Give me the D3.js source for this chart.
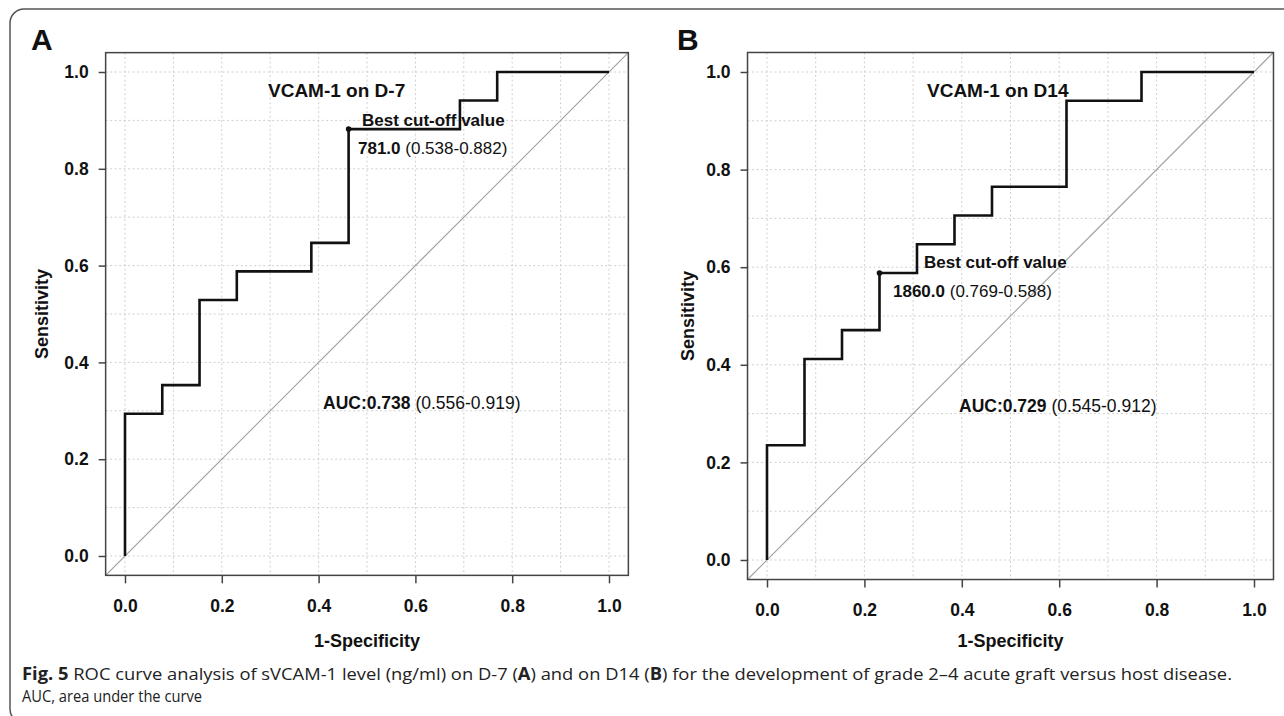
<!DOCTYPE html>
<html>
<head>
<meta charset="utf-8">
<script src="https://cdn.jsdelivr.net/npm/d3@7"></script>
<style>
  body { margin: 0; background: #fff; }
  svg { display: block; }
</style>
</head>
<body>
<div id="container-chart"></div>
<script>
// ROC step vertices (x = 1-specificity, y = sensitivity)
const fprA = [0, 0, 0.077, 0.154, 0.231, 0.385, 0.462, 0.692, 0.769, 1.0];
const tprA = [0, 0.294, 0.353, 0.529, 0.588, 0.647, 0.882, 0.941, 1.0, 1.0];
const fprB = [0, 0, 0.077, 0.154, 0.231, 0.308, 0.385, 0.462, 0.615, 0.769, 1.0];
const tprB = [0, 0.235, 0.412, 0.471, 0.588, 0.647, 0.706, 0.765, 0.941, 1.0, 1.0];

// best cut-off points
const bestA = [0.462, 0.882];
const bestB = [0.231, 0.588];

const tickValues = [0, 0.2, 0.4, 0.6, 0.8, 1.0];
const gridValues = [0, 0.1, 0.2, 0.3, 0.4, 0.5, 0.6, 0.7, 0.8, 0.9, 1.0];

const panelLabels = ["A", "B"];
const titles = ["VCAM-1 on D-7", "VCAM-1 on D14"];
const cutValues = ["781.0", "1860.0"];
const cutRanges = [" (0.538-0.882)", " (0.769-0.588)"];
const aucValues = ["AUC:0.738", "AUC:0.729"];
const aucRanges = [" (0.556-0.919)", " (0.545-0.912)"];

const W = 1284, H = 716;
const FONT = "'Liberation Sans', Arial, sans-serif";

const svg = d3.select("#container-chart")
  .append("svg")
  .attr("width", W)
  .attr("height", H);

// outer frame (open to the right, like the crop)
svg.append("rect")
  .attr("x", 10).attr("y", 9)
  .attr("width", 1320).attr("height", 714)
  .attr("rx", 14)
  .attr("fill", "none")
  .attr("stroke", "#555")
  .attr("stroke-width", 1.5);

// layout for each panel: x(0), x(1), y(0), y(1)
const panels = [
  {x0: 125, x1: 609, y0: 556, y1: 72, fpr: fprA, tpr: tprA, best: bestA,
   labX: 31, titleX: 268, cutX: 362, cutY: 126, valX: 358, valY: 154, aucX: 323, aucY: 409, yTitleX: 48},
  {x0: 767, x1: 1254, y0: 560, y1: 72, fpr: fprB, tpr: tprB, best: bestB,
   labX: 677, titleX: 927, cutX: 924, cutY: 268, valX: 893, valY: 297, aucX: 959, aucY: 412, yTitleX: 694}
];

panels.forEach((p, i) => {
  const x = d3.scaleLinear().domain([0, 1]).range([p.x0, p.x1]);
  const y = d3.scaleLinear().domain([0, 1]).range([p.y0, p.y1]);
  const left = x(-0.04), right = x(1.04), top = y(1.04), bottom = y(-0.04);
  const g = svg.append("g");

  // dotted grid
  g.selectAll(".vgrid").data(gridValues).enter().append("line")
    .attr("x1", d => x(d)).attr("x2", d => x(d))
    .attr("y1", top).attr("y2", bottom)
    .attr("stroke", "#cfcfcf").attr("stroke-width", 1)
    .attr("stroke-dasharray", "2,2.5");
  g.selectAll(".hgrid").data(gridValues).enter().append("line")
    .attr("y1", d => y(d)).attr("y2", d => y(d))
    .attr("x1", left).attr("x2", right)
    .attr("stroke", "#cfcfcf").attr("stroke-width", 1)
    .attr("stroke-dasharray", "2,2.5");

  // reference diagonal
  g.append("line")
    .attr("x1", x(-0.04)).attr("y1", y(-0.04))
    .attr("x2", x(1.04)).attr("y2", y(1.04))
    .attr("stroke", "#a0a0a0").attr("stroke-width", 1.2);

  // axes
  const xAxis = g.append("g")
    .attr("transform", "translate(0," + bottom + ")")
    .call(d3.axisBottom(x).tickValues(tickValues).tickFormat(d3.format(".1f"))
      .tickSize(8).tickPadding(16).tickSizeOuter(0));
  const yAxis = g.append("g")
    .attr("transform", "translate(" + left + ",0)")
    .call(d3.axisLeft(y).tickValues(tickValues).tickFormat(d3.format(".1f"))
      .tickSize(7).tickPadding(10).tickSizeOuter(0));
  [xAxis, yAxis].forEach(a => {
    a.select(".domain").remove();
    a.selectAll("line").attr("stroke", "#444").attr("stroke-width", 1.5);
    a.selectAll("text")
      .attr("font-family", FONT).attr("font-size", 17.5)
      .attr("font-weight", "bold").attr("fill", "#111");
  });
  xAxis.selectAll("text").attr("dy", "0.71em");

  // plot box
  g.append("rect")
    .attr("x", left).attr("y", top)
    .attr("width", right - left).attr("height", bottom - top)
    .attr("fill", "none").attr("stroke", "#444").attr("stroke-width", 1.5);

  // ROC curve
  const pts = p.fpr.map((d, k) => [d, p.tpr[k]]);
  g.append("path")
    .datum(pts)
    .attr("fill", "none")
    .attr("stroke", "#111")
    .attr("stroke-width", 2.6)
    .attr("d", d3.line().curve(d3.curveStepAfter)
      .x(d => x(d[0])).y(d => y(d[1])));

  g.append("circle")
    .attr("cx", x(p.best[0])).attr("cy", y(p.best[1]))
    .attr("r", 2.8).attr("fill", "#111");

  // texts
  const txt = (tx, ty, size, weight) => g.append("text")
    .attr("x", tx).attr("y", ty)
    .attr("font-family", FONT).attr("font-size", size)
    .attr("font-weight", weight).attr("fill", "#111");

  txt(p.labX, 50, 30, "bold").text(panelLabels[i]);
  txt(p.titleX, 97, 19, "bold").text(titles[i]);
  txt(p.cutX, p.cutY, 17, "bold").text("Best cut-off value");

  const v = txt(p.valX, p.valY, 17, "bold");
  v.append("tspan").text(cutValues[i]);
  v.append("tspan").attr("font-weight", "normal").text(cutRanges[i]);

  const a = txt(p.aucX, p.aucY, 17.5, "bold");
  a.append("tspan").text(aucValues[i]);
  a.append("tspan").attr("font-weight", "normal").text(aucRanges[i]);

  txt((p.x0 + p.x1) / 2, 647, 18, "bold")
    .attr("text-anchor", "middle").text("1-Specificity");
  txt(0, 0, 18, "bold")
    .attr("text-anchor", "middle")
    .attr("transform", "translate(" + p.yTitleX + "," + ((p.y0 + p.y1) / 2) + ") rotate(-90)")
    .text("Sensitivity");
});

// caption
const CAP = "'Open Sans', 'Noto Sans', sans-serif";
const c1 = svg.append("text")
  .attr("x", 22).attr("y", 680)
  .attr("font-family", CAP).attr("font-size", 17).attr("fill", "#222")
  .attr("textLength", 1210).attr("lengthAdjust", "spacingAndGlyphs");
c1.append("tspan").attr("font-weight", "bold").text("Fig. 5");
c1.append("tspan").text("  ROC curve analysis of sVCAM-1 level (ng/ml) on D-7 (");
c1.append("tspan").attr("font-weight", "bold").text("A");
c1.append("tspan").text(") and on D14 (");
c1.append("tspan").attr("font-weight", "bold").text("B");
c1.append("tspan").text(") for the development of grade 2\u20134 acute graft versus host disease.");

svg.append("text")
  .attr("x", 22).attr("y", 702)
  .attr("font-family", CAP).attr("font-size", 17).attr("fill", "#222")
  .attr("textLength", 180).attr("lengthAdjust", "spacingAndGlyphs")
  .text("AUC, area under the curve");
</script>
</body>
</html>
